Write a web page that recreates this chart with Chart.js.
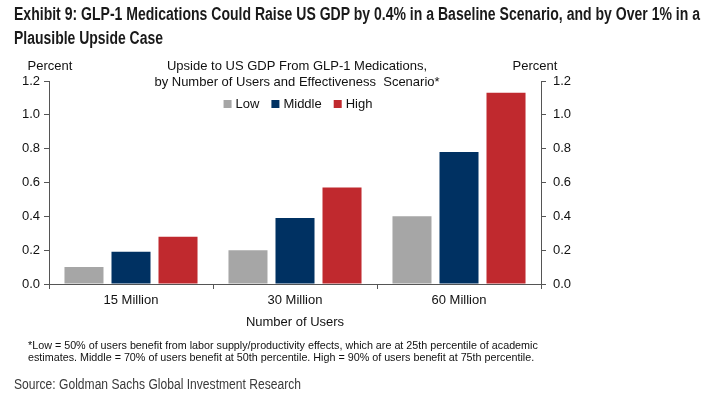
<!DOCTYPE html>
<html>
<head>
<meta charset="utf-8">
<script src="https://cdn.jsdelivr.net/npm/chart.js@4.4.1/dist/chart.umd.min.js"></script>
<style>
  body { margin: 0; background: #fff; }
  #wrap { position: relative; width: 703px; height: 414px; overflow: hidden; }
  #chart { position: absolute; left: 0; top: 0; }
  .fit { position: absolute; white-space: nowrap; transform-origin: 0 0; }
  .title {
    font-family: "Liberation Sans", Arial, sans-serif;
    font-weight: bold; font-size: 18px; line-height: 20px; color: #1a1a1a;
  }
  .note {
    position: absolute; left: 28px; top: 339px;
    font-family: "Liberation Sans", Arial, sans-serif;
    font-size: 10.75px; line-height: 12.3px; color: #111;
  }
  .source {
    font-family: "Liberation Sans", Arial, sans-serif;
    font-size: 14px; line-height: 16px; color: #3a3a3a;
  }
</style>
</head>
<body>
<div id="wrap">
  <canvas id="chart" width="703" height="414"></canvas>
  <div class="fit title" style="left:14px; top:4px;" data-w="686">Exhibit 9: GLP-1 Medications Could Raise US GDP by 0.4% in a Baseline Scenario, and by Over 1% in a</div>
  <div class="fit title" style="left:14px; top:28px;" data-w="149">Plausible Upside Case</div>
  <div class="note">*Low = 50% of users benefit from labor supply/productivity effects, which are at 25th percentile of academic<br>estimates. Middle = 70% of users benefit at 50th percentile. High = 90% of users benefit at 75th percentile.</div>
  <div class="fit source" style="left:14px; top:376px;" data-w="287">Source: Goldman Sachs Global Investment Research</div>
</div>
<script>
// data
const categories = ['15 Million', '30 Million', '60 Million'];
const lowValues = [0.10, 0.20, 0.40];
const middleValues = [0.19, 0.39, 0.78];
const highValues = [0.28, 0.57, 1.13];
const seriesNames = ['Low', 'Middle', 'High'];
const seriesColors = ['#a6a6a6', '#003162', '#c0292e'];

const chartTitle = ['Upside to US GDP From GLP-1 Medications,', 'by Number of Users and Effectiveness  Scenario*'];
const axisUnit = 'Percent';
const xAxisTitle = 'Number of Users';

const FONT = '"Liberation Sans", Arial, sans-serif';
const TEXT = '#111';

// the report font is a condensed one, squeeze the text lines to their width
document.querySelectorAll('.fit').forEach(el => {
  const w = el.getBoundingClientRect().width;
  el.style.transform = 'scaleX(' + (Number(el.dataset.w) / w) + ')';
});

// titles, legend and unit labels drawn on top of the plot
const overlayPlugin = {
  id: 'overlay',
  afterDraw(chart) {
    const c = chart.ctx;
    const area = chart.chartArea;
    const mid = (area.left + area.right) / 2;
    c.save();
    c.fillStyle = TEXT;
    c.font = '13px ' + FONT;
    c.textBaseline = 'middle';
    c.textAlign = 'center';
    c.fillText(chartTitle[0], mid + 2, 66);
    c.fillText(chartTitle[1], mid + 2, 82);
    c.fillText(xAxisTitle, mid, 322);
    c.fillText(axisUnit, 50, 66);
    c.fillText(axisUnit, 535, 66);

    // legend
    const items = chart.data.datasets.map(ds => ({ label: ds.label, color: ds.backgroundColor }));
    const box = 8, gapBox = 4, gapItem = 12;
    let total = 0;
    items.forEach((it, i) => {
      it.w = c.measureText(it.label).width;
      total += box + gapBox + it.w + (i < items.length - 1 ? gapItem : 0);
    });
    let x = mid + 3 - total / 2;
    const ly = 104;
    c.textAlign = 'left';
    items.forEach(it => {
      c.fillStyle = it.color;
      c.fillRect(x, ly - box / 2, box, box);
      x += box + gapBox;
      c.fillStyle = TEXT;
      c.fillText(it.label, x, ly);
      x += it.w + gapItem;
    });
    c.restore();
  }
};

const tickFmt = v => Number(v).toFixed(1);

new Chart(document.getElementById('chart'), {
  type: 'bar',
  data: {
    labels: categories,
    datasets: [
      { label: seriesNames[0], data: lowValues, backgroundColor: seriesColors[0] },
      { label: seriesNames[1], data: middleValues, backgroundColor: seriesColors[1] },
      { label: seriesNames[2], data: highValues, backgroundColor: seriesColors[2] }
    ]
  },
  options: {
    responsive: false,
    animation: false,
    categoryPercentage: 0.86,
    barPercentage: 0.83,
    layout: { padding: { left: 0, right: 0, top: 81, bottom: 0 } },
    plugins: {
      legend: { display: false },
      title: { display: false },
      tooltip: { enabled: false }
    },
    scales: {
      x: {
        grid: { display: true, drawOnChartArea: false, drawTicks: true, tickLength: 5, color: '#555' },
        border: { display: true, color: '#555', width: 1 },
        ticks: { color: TEXT, font: { family: FONT, size: 13 }, padding: 4 },
        afterFit(scale) { scale.height = 414 - 284; }
      },
      y: {
        position: 'left',
        min: 0, max: 1.2,
        grid: { display: true, drawOnChartArea: false, drawTicks: true, tickLength: 5, color: '#555' },
        border: { display: true, color: '#555', width: 1 },
        ticks: { stepSize: 0.2, color: TEXT, font: { family: FONT, size: 13 }, padding: 4, callback: tickFmt },
        afterFit(scale) { scale.width = 49; }
      },
      y2: {
        position: 'right',
        min: 0, max: 1.2,
        grid: { display: true, drawOnChartArea: false, drawTicks: true, tickLength: 5, color: '#555' },
        border: { display: true, color: '#555', width: 1 },
        ticks: { stepSize: 0.2, color: TEXT, font: { family: FONT, size: 13 }, padding: 7, callback: tickFmt },
        afterFit(scale) { scale.width = 703 - 541; }
      }
    }
  },
  plugins: [overlayPlugin]
});
</script>
</body>
</html>
